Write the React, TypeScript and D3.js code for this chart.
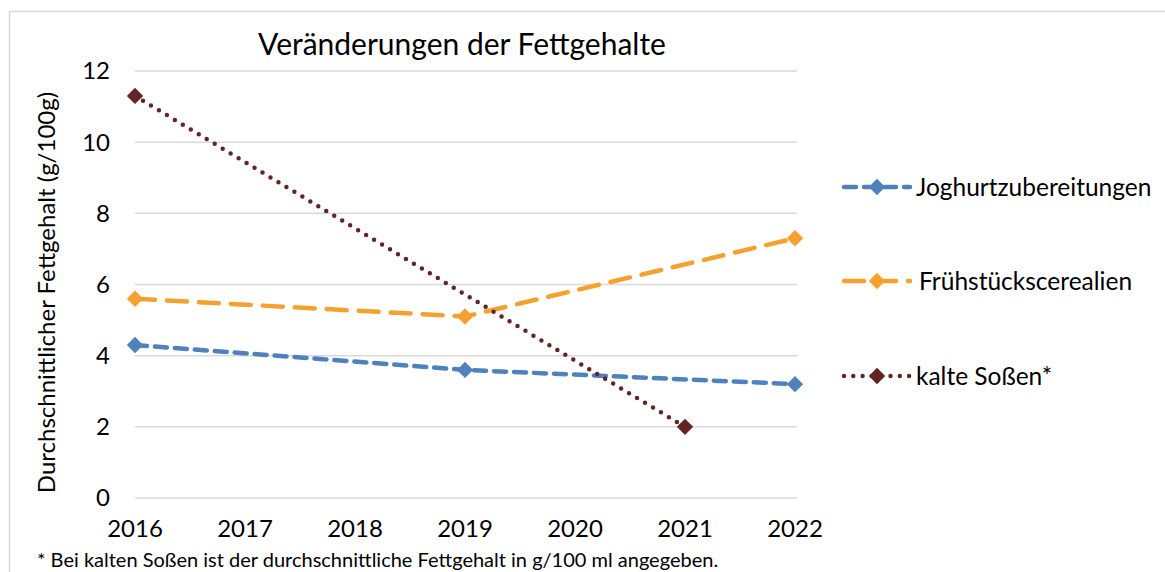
import React, { useEffect, useRef } from 'react';
import * as d3 from 'd3';

const years = [2016, 2017, 2018, 2019, 2020, 2021, 2022];
const yTicks = [0, 2, 4, 6, 8, 10, 12];

const joghurt = [{ year: 2016, value: 4.3 }, { year: 2019, value: 3.6 }, { year: 2022, value: 3.2 }];
const cerealien = [{ year: 2016, value: 5.6 }, { year: 2019, value: 5.1 }, { year: 2022, value: 7.3 }];
const sossen = [{ year: 2016, value: 11.3 }, { year: 2021, value: 2.0 }];

interface Point { year: number; value: number; }

const seriesList = [
  { name: 'Joghurtzubereitungen', data: joghurt, color: '#4f81bd', dash: '12,8', width: 4.5, cap: 'round' },
  { name: 'Frühstückscerealien', data: cerealien, color: '#f6a02d', dash: '20,12', width: 4.5, cap: 'round' },
  { name: 'kalte Soßen*', data: sossen, color: '#632523', dash: '0,9.3', width: 4.5, cap: 'round' },
];

const FONT = 'Lato, "Open Sans", sans-serif';

const App: React.FC = () => {
  const svgRef = useRef<SVGSVGElement | null>(null);

  useEffect(() => {
    if (!svgRef.current) return;
    const width = 1165;
    const height = 572;
    const svg = d3.select(svgRef.current);
    svg.selectAll('*').remove();

    svg.append('rect').attr('width', width).attr('height', height).attr('fill', '#fff');
    svg.append('rect')
      .attr('x', 9.5).attr('y', 11.5)
      .attr('width', width + 10).attr('height', height + 10)
      .attr('fill', 'none').attr('stroke', '#d9d9d9').attr('stroke-width', 1.5);

    const x = d3.scaleLinear().domain([2016, 2022]).range([135, 795]);
    const y = d3.scaleLinear().domain([0, 12]).range([498, 71]);

    // gridlines
    svg.append('g')
      .selectAll('line')
      .data(yTicks)
      .join('line')
      .attr('x1', 135).attr('x2', 797)
      .attr('y1', d => y(d)).attr('y2', d => y(d))
      .attr('stroke', '#d9d9d9').attr('stroke-width', 1.5);

    // y tick labels
    svg.append('g')
      .selectAll('text')
      .data(yTicks)
      .join('text')
      .attr('x', 110).attr('y', d => y(d))
      .attr('dy', '0.35em')
      .attr('text-anchor', 'end')
      .attr('font-family', FONT).attr('font-size', 24)
      .attr('fill', '#000')
      .text(d => d);

    // x tick labels
    svg.append('g')
      .selectAll('text')
      .data(years)
      .join('text')
      .attr('x', d => x(d)).attr('y', 537)
      .attr('text-anchor', 'middle')
      .attr('font-family', FONT).attr('font-size', 24)
      .attr('fill', '#000')
      .text(d => d);

    svg.append('text')
      .attr('x', 462).attr('y', 55)
      .attr('text-anchor', 'middle')
      .attr('font-family', FONT).attr('font-size', 30)
      .attr('fill', '#000')
      .text('Veränderungen der Fettgehalte');

    svg.append('text')
      .attr('transform', `translate(55,${y(6) + 8}) rotate(-90)`)
      .attr('text-anchor', 'middle')
      .attr('font-family', FONT).attr('font-size', 24)
      .attr('fill', '#000')
      .text('Durchschnittlicher Fettgehalt (g/100g)');

    svg.append('text')
      .attr('x', 37).attr('y', 567)
      .attr('font-family', FONT).attr('font-size', 20)
      .attr('fill', '#000')
      .text('* Bei kalten Soßen ist der durchschnittliche Fettgehalt in g/100 ml angegeben.');

    const line = d3.line<Point>().x(d => x(d.year)).y(d => y(d.value));
    const diamond = d3.symbol().type(d3.symbolDiamond2).size(170);

    seriesList.forEach(s => {
      svg.append('path')
        .datum(s.data)
        .attr('fill', 'none')
        .attr('stroke', s.color)
        .attr('stroke-width', s.width)
        .attr('stroke-dasharray', s.dash)
        .attr('stroke-linecap', s.cap)
        .attr('d', line);
      svg.append('g')
        .selectAll('path')
        .data(s.data)
        .join('path')
        .attr('transform', d => `translate(${x(d.year)},${y(d.value)})`)
        .attr('d', diamond)
        .attr('fill', s.color);
    });

    // legend
    const legendY = [187, 281, 376];
    const lg = svg.append('g');
    seriesList.forEach((s, i) => {
      const ly = legendY[i];
      lg.append('line')
        .attr('x1', 844).attr('x2', 910)
        .attr('y1', ly).attr('y2', ly)
        .attr('stroke', s.color)
        .attr('stroke-width', s.width)
        .attr('stroke-dasharray', s.dash)
        .attr('stroke-linecap', s.cap);
      lg.append('path')
        .attr('transform', `translate(877,${ly})`)
        .attr('d', diamond)
        .attr('fill', s.color);
      lg.append('text')
        .attr('x', i === 1 ? 919 : 916).attr('y', ly)
        .attr('dy', '0.35em')
        .attr('font-family', FONT).attr('font-size', 24.5)
        .attr('fill', '#000')
        .text(s.name);
    });
  }, []);

  return (
    <div style={{ position: 'absolute', left: 0, top: 0 }}>
      <svg ref={svgRef} width={1165} height={572} style={{ display: 'block' }}></svg>
    </div>
  );
};

export default App;
